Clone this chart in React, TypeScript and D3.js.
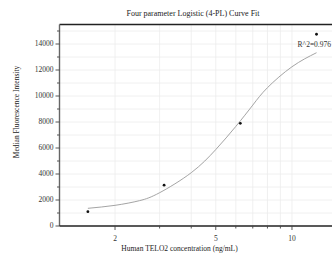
import React from 'react'
import * as d3 from 'd3'

// measured standards
const conc = [1.5625, 3.125, 6.25, 12.5]
const mfi = [1100, 3140, 7900, 14750]

// fitted curve
const fitConc = [1.5625, 2, 2.5, 3, 4, 5, 6, 7, 8, 10, 12.5]
const fitMfi = [1360, 1590, 1950, 2560, 4100, 5880, 7660, 9300, 10640, 12250, 13330]

const xMajor = [2, 5, 10]
const xMinor = [3, 4, 6, 7, 8, 9]
const yMajor = [0, 2000, 4000, 6000, 8000, 10000, 12000, 14000]
const yMinor = [1000, 3000, 5000, 7000, 9000, 11000, 13000, 15000]

const title = 'Four parameter Logistic (4-PL) Curve Fit'
const xTitle = 'Human TELO2 concentration (ng/mL)'
const yTitle = 'Median Fluorescence Intensity'
const r2Label = 'R^2=0.976'

const W = 332, H = 261
const left = 59.5, top = 24.5, bottom = 226, right = 332
const font = '"Liberation Serif", "Times New Roman", serif'

export default function App() {
  const x = d3.scaleLog().domain([1.207, 14.39]).range([left, right])
  const y = d3.scaleLinear().domain([0, 15500]).range([bottom, top])

  const line = d3.line<number>()
    .x((d, i) => x(fitConc[i]))
    .y(d => y(d))
    .curve(d3.curveNatural)

  const grid = '#ececec'

  return (
    <div style={{ position: 'absolute', left: 0, top: 0 }}>
      <svg width={W} height={H} style={{ display: 'block', background: '#fff' }}>
        <text x={193} y={15.5} textAnchor="middle" fontFamily={font} fontSize={8} fill="#222">{title}</text>

        {/* grid */}
        {xMajor.concat(xMinor).map(v => (
          <line key={'gx' + v} x1={x(v)} x2={x(v)} y1={top} y2={bottom} stroke={grid} strokeWidth={0.8} />
        ))}
        {yMajor.concat(yMinor).filter(v => v > 0).map(v => (
          <line key={'gy' + v} x1={left} x2={right} y1={y(v)} y2={y(v)} stroke={grid} strokeWidth={0.8} />
        ))}

        {/* frame */}
        <line x1={left} x2={right} y1={top} y2={top} stroke="#222" strokeWidth={1.3} />
        <line x1={left} x2={left} y1={top} y2={bottom} stroke="#666" strokeWidth={1.4} />
        <line x1={left} x2={right} y1={bottom} y2={bottom} stroke="#222" strokeWidth={1.3} />

        {/* y ticks */}
        {yMajor.map(v => (
          <g key={'ty' + v}>
            <line x1={left - 4} x2={left} y1={y(v)} y2={y(v)} stroke="#444" strokeWidth={0.9} />
            <text x={left - 6} y={y(v)} dy="0.33em" textAnchor="end" fontFamily={font} fontSize={7.5} fill="#333">{v}</text>
          </g>
        ))}
        {yMinor.map(v => (
          <line key={'my' + v} x1={left - 2.5} x2={left} y1={y(v)} y2={y(v)} stroke="#444" strokeWidth={0.9} />
        ))}

        {/* x ticks */}
        {xMajor.map(v => (
          <g key={'tx' + v}>
            <line x1={x(v)} x2={x(v)} y1={bottom} y2={bottom + 4} stroke="#444" strokeWidth={0.9} />
            <text x={x(v)} y={bottom + 15} textAnchor="middle" fontFamily={font} fontSize={7.5} fill="#333">{v}</text>
          </g>
        ))}
        {xMinor.map(v => (
          <line key={'mx' + v} x1={x(v)} x2={x(v)} y1={bottom} y2={bottom + 2.5} stroke="#444" strokeWidth={0.9} />
        ))}

        <text x={179.5} y={251} textAnchor="middle" fontFamily={font} fontSize={7.5} fill="#222">{xTitle}</text>
        <text transform={`translate(19,112) rotate(-90)`} textAnchor="middle" fontFamily={font} fontSize={7.5} fill="#222">{yTitle}</text>

        <path d={line(fitMfi) || ''} fill="none" stroke="#9a9a9a" strokeWidth={0.9} />

        {conc.map((c, i) => (
          <circle key={'p' + i} cx={x(c)} cy={y(mfi[i])} r={1.4} fill="#111" />
        ))}

        <text x={331} y={47} textAnchor="end" fontFamily={font} fontSize={7.5} fill="#333">{r2Label}</text>
      </svg>
    </div>
  )
}
